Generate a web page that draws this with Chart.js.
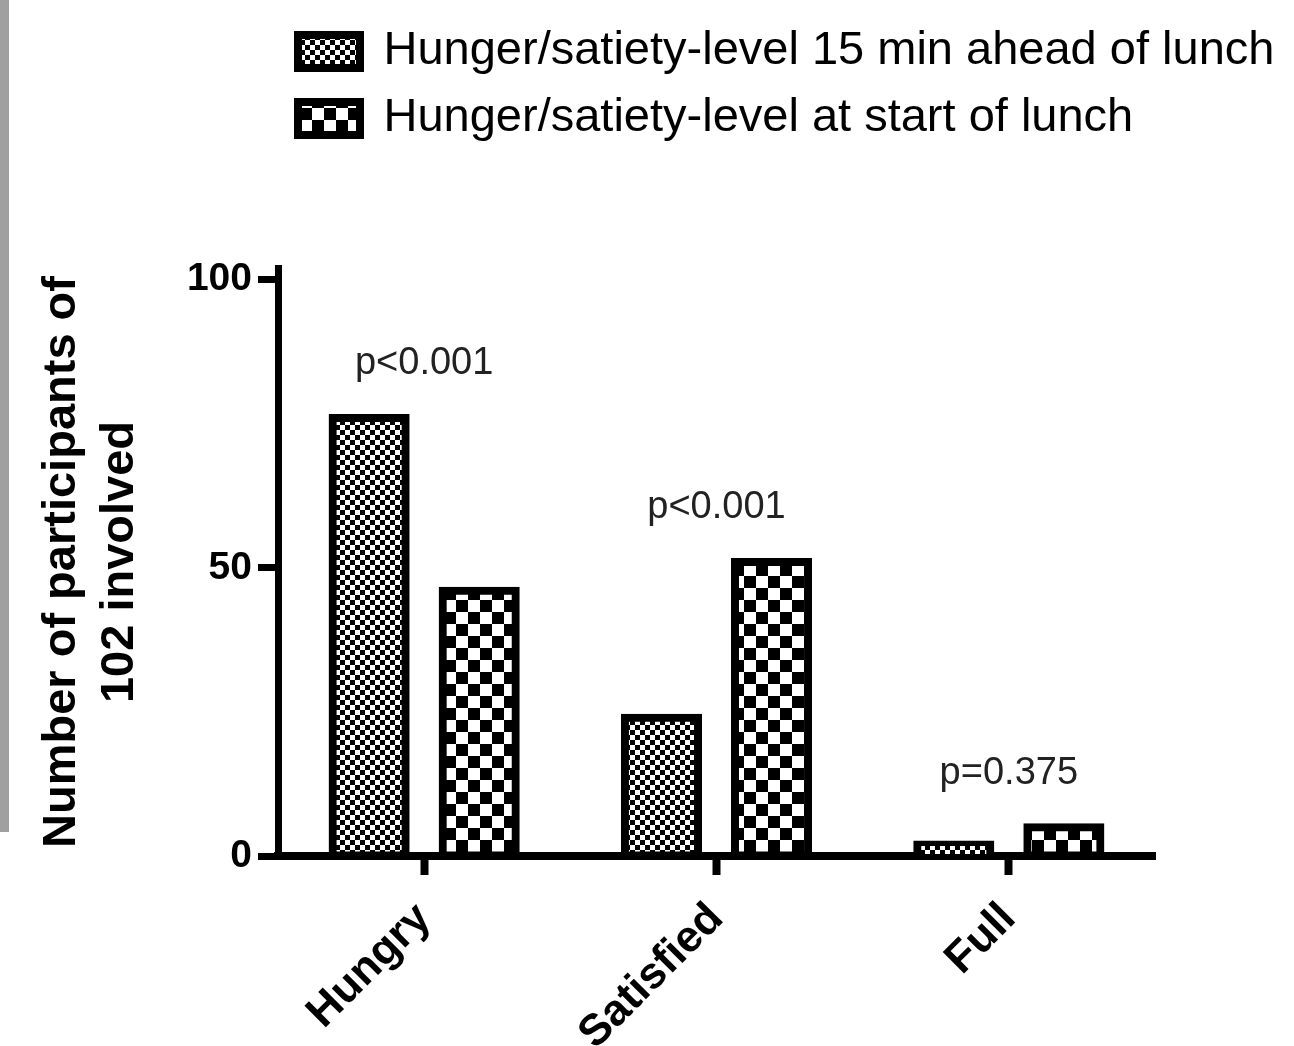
<!DOCTYPE html>
<html>
<head>
<meta charset="utf-8">
<script src="https://cdn.jsdelivr.net/npm/chart.js@4/dist/chart.umd.min.js"></script>
<style>
  body { margin: 0; background: #fff; }
  #wrap { position: relative; width: 1294px; height: 1046px; }
  #edge { position: absolute; left: 0; top: 0; width: 9px; height: 832px; background: #a0a0a0; }
</style>
</head>
<body>
<div id="wrap">
  <canvas id="hungerChart" width="1294" height="1046"></canvas>
  <div id="edge"></div>
</div>
<script>
var categories = ['Hungry', 'Satisfied', 'Full'];
var seriesLabels = ['Hunger/satiety-level 15 min ahead of lunch', 'Hunger/satiety-level at start of lunch'];
var aheadOfLunch = [76, 24, 2];
var startOfLunch = [46, 51, 5];
var pValues = ['p<0.001', 'p<0.001', 'p=0.375'];
var yTicks = [0, 50, 100];

function checker(size) {
  var c = document.createElement('canvas');
  c.width = size * 2;
  c.height = size * 2;
  var g = c.getContext('2d');
  g.fillStyle = '#fff';
  g.fillRect(0, 0, size * 2, size * 2);
  g.fillStyle = '#000';
  g.fillRect(0, 0, size, size);
  g.fillRect(size, size, size, size);
  return g.createPattern(c, 'repeat');
}

// legend sits over the plot width but its text runs past the right edge
var legendSpace = {
  id: 'legendSpace',
  beforeInit: function (chart) {
    var fit = chart.legend.fit;
    chart.legend.fit = function () {
      fit.bind(chart.legend)();
      this.height = 260;
    };
  },
  afterLayout: function (chart) {
    chart.legend.right = chart.width;
    chart.legend.width = chart.width - chart.legend.left;
  }
};

var pLabels = {
  id: 'pLabels',
  afterDatasetsDraw: function (chart) {
    var ctx = chart.ctx;
    var x = chart.scales.x;
    var y = chart.scales.y;
    ctx.save();
    ctx.font = '38px Arial, "Liberation Sans", sans-serif';
    ctx.fillStyle = '#222';
    ctx.textAlign = 'center';
    ctx.textBaseline = 'middle';
    pValues.forEach(function (p, i) {
      var top = Math.max(aheadOfLunch[i], startOfLunch[i]);
      ctx.fillText(p, x.getPixelForValue(i), y.getPixelForValue(top) - 54);
    });
    ctx.restore();
  }
};

Chart.defaults.font.family = 'Arial, "Liberation Sans", sans-serif';
Chart.defaults.color = '#000';

var ctx = document.getElementById('hungerChart').getContext('2d');
var hungerChart = new Chart(ctx, {
  type: 'bar',
  data: {
    labels: categories,
    datasets: [{
      label: seriesLabels[0],
      data: aheadOfLunch,
      backgroundColor: checker(5),
      borderColor: '#000',
      borderWidth: 8,
      borderSkipped: false,
      inflateAmount: 4
    }, {
      label: seriesLabels[1],
      data: startOfLunch,
      backgroundColor: checker(12),
      borderColor: '#000',
      borderWidth: 8,
      borderSkipped: false,
      inflateAmount: 4
    }]
  },
  options: {
    responsive: false,
    animation: false,
    barPercentage: 0.664,
    categoryPercentage: 0.753,
    layout: { padding: { top: 8, right: 139, bottom: 0, left: 0 } },
    plugins: {
      tooltip: { enabled: false },
      legend: {
        position: 'top',
        align: 'start',
        fullSize: false,
        labels: {
          boxWidth: 62,
          boxHeight: 33,
          padding: 20,
          color: '#000',
          font: { size: 47 }
        }
      }
    },
    scales: {
      x: {
        grid: { offset: false, drawOnChartArea: false, tickLength: 19, tickWidth: 8, tickColor: '#000' },
        border: { display: true, color: '#000', width: 8 },
        ticks: {
          maxRotation: 45,
          minRotation: 45,
          padding: 18,
          color: '#000',
          font: { size: 44, weight: 'bold' }
        },
        afterFit: function (scale) { scale.height = 190; }
      },
      y: {
        min: 0,
        max: 102,
        grid: { drawOnChartArea: false, tickLength: 20, tickWidth: 7, tickColor: '#000' },
        border: { display: true, color: '#000', width: 7 },
        ticks: {
          padding: 6,
          color: '#000',
          font: { size: 39, weight: 'bold' }
        },
        afterBuildTicks: function (scale) {
          scale.ticks = yTicks.map(function (v) { return { value: v }; });
        },
        title: {
          display: true,
          text: ['Number of participants of', '102 involved'],
          color: '#000',
          padding: { top: 33, bottom: 0 },
          font: { size: 47, weight: 'bold', lineHeight: 1.23 }
        },
        afterFit: function (scale) { scale.width = 278; }
      }
    }
  },
  plugins: [legendSpace, pLabels]
});
</script>
</body>
</html>
